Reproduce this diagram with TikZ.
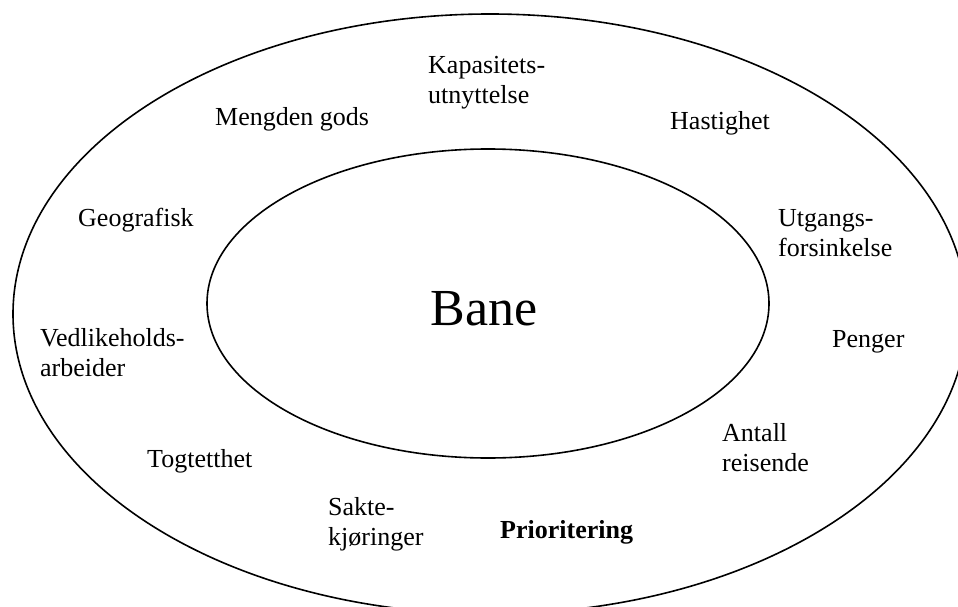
\documentclass[tikz,border=0pt]{standalone}
\usepackage{fontspec}
\setmainfont{Liberation Serif}
\tikzset{
  ring/.style={draw=black, line width=1.6pt},
  lbl/.style={anchor=base west, inner sep=0pt, align=left, font=\fontsize{26}{30}\selectfont},
  title/.style={anchor=base, inner sep=0pt, font=\fontsize{52}{60}\selectfont}
}
\begin{document}
\begin{tikzpicture}[x=1pt,y=-1pt]
\useasboundingbox (0,0) rectangle (958,607);
\clip (0,0) rectangle (958,607);
\fill[white] (0,0) rectangle (958,607);
\draw[ring] (490,314) ellipse [x radius=477, y radius=300];
\draw[ring] (488,303.5) ellipse [x radius=281, y radius=154.5];
\node[title] (bane) at (484,325) {Bane};
\node[lbl] (kap) at (428,104) {Kapasitets-\\utnyttelse};
\node[lbl] (meng) at (215,126) {Mengden gods};
\node[lbl] (hast) at (670,129) {Hastighet};
\node[lbl] (geo) at (78,226) {Geografisk};
\node[lbl] (utg) at (778,256) {Utgangs-\\forsinkelse};
\node[lbl] (ved) at (40,376) {Vedlikeholds-\\arbeider};
\node[lbl] (peng) at (832,347) {Penger};
\node[lbl] (ant) at (722,471) {Antall\\reisende};
\node[lbl] (tog) at (147,467) {Togtetthet};
\node[lbl] (sakte) at (328,545) {Sakte-\\kjøringer};
\node[lbl, font=\fontsize{26}{30}\selectfont\bfseries] (prio) at (500,538) {Prioritering};
\end{tikzpicture}
\end{document}
